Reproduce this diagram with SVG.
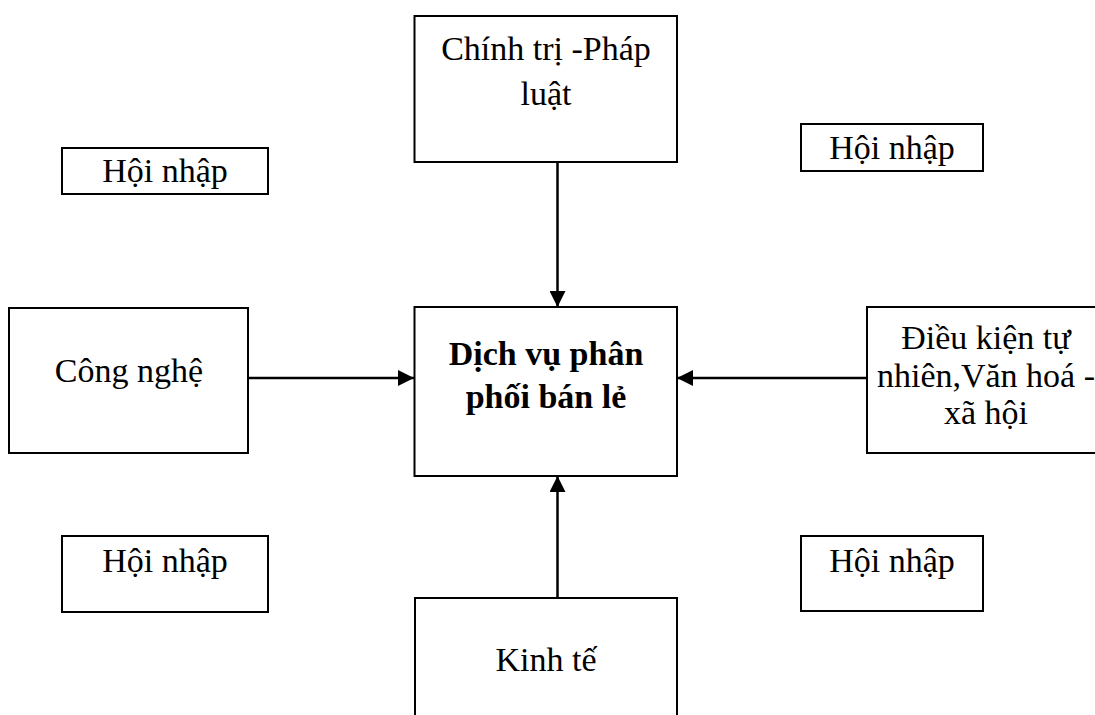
<svg xmlns="http://www.w3.org/2000/svg" width="1095" height="715" viewBox="0 0 1095 715">
<style>
.box{fill:#fff;stroke:#000;stroke-width:2}
.t{font-family:"Liberation Serif","Times New Roman",serif;font-size:34px;fill:#000;text-anchor:middle}
.b{font-weight:bold}
.c{stroke:#000;stroke-width:2.5;fill:none;marker-end:url(#ah)}
</style>
<defs>
<marker id="ah" markerUnits="userSpaceOnUse" viewBox="0 0 16 16" markerWidth="16" markerHeight="16" refX="16" refY="8" orient="auto">
<path d="M0,0 L16,8 L0,16 z" fill="#000"/>
</marker>
</defs>
<rect width="1095" height="715" fill="#fff"/>
<g id="connectors">
<line class="c" x1="557.5" y1="162" x2="557.5" y2="307"/>
<line class="c" x1="557.5" y1="598" x2="557.5" y2="476"/>
<line class="c" x1="248" y1="378" x2="414" y2="378"/>
<line class="c" x1="867" y1="378" x2="677" y2="378"/>
</g>
<g id="chinh-tri">
<rect class="box" x="414.5" y="16" width="262.5" height="146"/>
<text class="t" x="546" y="60">Chính trị -Pháp</text>
<text class="t" x="546" y="105">luật</text>
</g>
<g id="dich-vu">
<rect class="box" x="414.5" y="307" width="262.5" height="169"/>
<text class="t b" x="546" y="365">Dịch vụ phân</text>
<text class="t b" x="546" y="408">phối bán lẻ</text>
</g>
<g id="cong-nghe">
<rect class="box" x="9" y="308" width="239" height="145"/>
<text class="t" x="129" y="382">Công nghệ</text>
</g>
<g id="dieu-kien">
<rect class="box" x="867" y="307" width="240" height="146"/>
<text class="t" x="986" y="349">Điều kiện tự</text>
<text class="t" x="986" y="387">nhiên,Văn hoá -</text>
<text class="t" x="986" y="424">xã hội</text>
</g>
<g id="kinh-te">
<rect class="box" x="415" y="598" width="262" height="130"/>
<text class="t" x="546" y="671">Kinh tế</text>
</g>
<g id="hoi-nhap-tl">
<rect class="box" x="62" y="148" width="206" height="46"/>
<text class="t" x="165" y="182">Hội nhập</text>
</g>
<g id="hoi-nhap-tr">
<rect class="box" x="801" y="124" width="182" height="47"/>
<text class="t" x="892" y="159">Hội nhập</text>
</g>
<g id="hoi-nhap-bl">
<rect class="box" x="62" y="536" width="206" height="76"/>
<text class="t" x="165" y="572">Hội nhập</text>
</g>
<g id="hoi-nhap-br">
<rect class="box" x="801" y="536" width="182" height="75"/>
<text class="t" x="892" y="572">Hội nhập</text>
</g>
</svg>
